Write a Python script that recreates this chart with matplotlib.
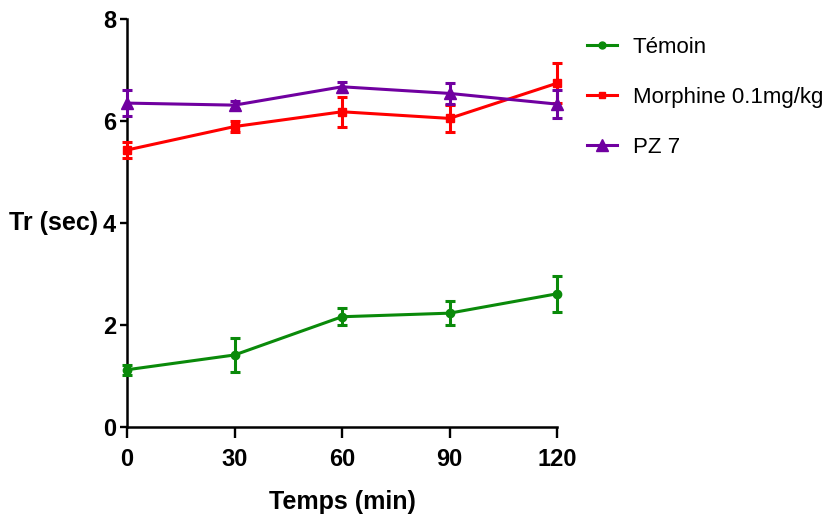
import matplotlib
matplotlib.use('Agg')
import matplotlib.pyplot as plt
from matplotlib.lines import Line2D

# donnees
temps = [0, 30, 60, 90, 120]

temoin = [1.12, 1.41, 2.16, 2.23, 2.61]
temoin_err = [0.10, 0.34, 0.17, 0.23, 0.35]

morphine = [5.43, 5.89, 6.18, 6.05, 6.74]
morphine_err = [0.15, 0.11, 0.29, 0.26, 0.39]

pz7 = [6.35, 6.31, 6.67, 6.54, 6.33]
pz7_err = [0.26, 0.08, 0.10, 0.20, 0.27]

labels = ['Témoin', 'Morphine 0.1mg/kg', 'PZ 7']
couleurs = ['#0a8a0a', '#ff0000', '#7000a0']
marqueurs = ['o', 's', '^']

plt.rcParams['font.family'] = ['Liberation Sans', 'DejaVu Sans']

fig = plt.figure(figsize=(8.39, 5.27), dpi=100)
ax = fig.add_axes([0.1514, 0.19, 0.5125, 0.774])

series = [(temoin, temoin_err), (morphine, morphine_err), (pz7, pz7_err)]
poignees = []
for (y, e), lab, c, m in zip(series, labels, couleurs, marqueurs):
    ms = 9 if m == '^' else 6
    ax.errorbar(temps, y, yerr=e, color=c, marker=m, markersize=ms,
                lw=2.2, elinewidth=2.2, capsize=3.5, capthick=2.2,
                clip_on=False, zorder=3)
    poignees.append(Line2D([], [], color=c, marker=m, markersize=ms - 1, lw=2.2, label=lab))

ax.set_xlim(0, 120)
ax.set_ylim(0, 8)
ax.set_xticks(temps)
ax.set_yticks([0, 2, 4, 6, 8])

for s in ['top', 'right']:
    ax.spines[s].set_visible(False)
for s in ['left', 'bottom']:
    ax.spines[s].set_linewidth(1.8)

ax.tick_params(axis='x', length=8, width=1.7, pad=7, labelsize=17)
ax.tick_params(axis='y', length=5, width=1.7, pad=3, labelsize=17)
for t in ax.get_xticklabels() + ax.get_yticklabels():
    t.set_fontweight('bold')

ax.set_xlabel('Temps (min)', fontsize=18, fontweight='bold')
ax.xaxis.set_label_coords(0.5, -0.155)
ax.set_ylabel('Tr (sec)', fontsize=18, fontweight='bold', rotation=0, ha='right', va='center')
ax.yaxis.set_label_coords(-0.068, 0.5)

ax.legend(handles=poignees, loc='upper left', bbox_to_anchor=(0.70, 0.930),
          bbox_transform=fig.transFigure, frameon=False, fontsize=16,
          handlelength=1.35, labelspacing=1.3, handletextpad=0.7,
          borderpad=0, borderaxespad=0)

fig.savefig('out.png', dpi=100)
